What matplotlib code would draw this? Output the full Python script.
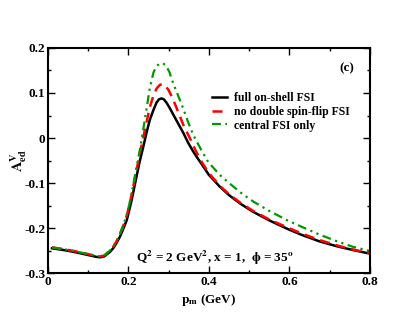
import matplotlib
matplotlib.use("Agg")
import matplotlib.pyplot as plt
from matplotlib.ticker import MultipleLocator

plt.rcParams['font.family'] = ['Liberation Serif', 'DejaVu Serif']
plt.rcParams['font.weight'] = 'bold'
plt.rcParams['mathtext.fontset'] = 'stix'
plt.rcParams['axes.unicode_minus'] = False

# full on-shell FSI
x_full = [0.01, 0.04, 0.07, 0.10, 0.12, 0.13, 0.14, 0.154, 0.162, 0.17, 0.179, 0.188,
          0.196, 0.202, 0.208, 0.214, 0.220, 0.228, 0.237, 0.245, 0.253, 0.262, 0.270,
          0.276, 0.282, 0.288, 0.295, 0.303, 0.320, 0.336, 0.348, 0.361, 0.372, 0.382,
          0.40, 0.427, 0.45, 0.48, 0.51, 0.55, 0.593, 0.63, 0.676, 0.72, 0.759, 0.80]
y_full = [-0.245, -0.249, -0.254, -0.260, -0.264, -0.265, -0.263, -0.253, -0.245, -0.234,
          -0.219, -0.200, -0.182, -0.160, -0.138, -0.112, -0.086, -0.052, -0.019, 0.012,
          0.040, 0.062, 0.079, 0.086, 0.088, 0.086, 0.078, 0.066, 0.038, 0.012, -0.010,
          -0.030, -0.045, -0.058, -0.082, -0.108, -0.127, -0.147, -0.164, -0.183, -0.201,
          -0.215, -0.230, -0.241, -0.249, -0.257]

# no double spin-flip FSI
x_nodsf = [0.01, 0.04, 0.07, 0.10, 0.12, 0.13, 0.14, 0.154, 0.162, 0.17, 0.179, 0.188,
           0.196, 0.202, 0.208, 0.214, 0.220, 0.228, 0.237, 0.245, 0.253, 0.262, 0.270,
           0.278, 0.285, 0.292, 0.30, 0.31, 0.320, 0.336, 0.353, 0.367, 0.382,
           0.40, 0.427, 0.45, 0.48, 0.51, 0.55, 0.593, 0.63, 0.676, 0.72, 0.759, 0.80]
y_nodsf = [-0.243, -0.247, -0.252, -0.258, -0.262, -0.263, -0.261, -0.250, -0.242, -0.230,
           -0.213, -0.193, -0.172, -0.150, -0.126, -0.099, -0.072, -0.036, 0.002, 0.035,
           0.068, 0.094, 0.110, 0.118, 0.120, 0.116, 0.106, 0.088, 0.066, 0.030, -0.001,
           -0.028, -0.053, -0.078, -0.106, -0.125, -0.145, -0.162, -0.181, -0.198,
           -0.212, -0.227, -0.239, -0.248, -0.256]

# central FSI only
x_central = [0.01, 0.04, 0.07, 0.10, 0.12, 0.13, 0.14, 0.154, 0.162, 0.17, 0.179, 0.188,
             0.196, 0.202, 0.208, 0.214, 0.220, 0.228, 0.237, 0.245, 0.253, 0.262, 0.270,
             0.278, 0.286, 0.294, 0.302, 0.311, 0.320, 0.336, 0.348, 0.361, 0.38, 0.398,
             0.427, 0.45, 0.48, 0.51, 0.55, 0.593, 0.63, 0.676, 0.72, 0.759, 0.80]
y_central = [-0.243, -0.247, -0.252, -0.258, -0.262, -0.263, -0.261, -0.250, -0.242, -0.230,
             -0.213, -0.192, -0.170, -0.148, -0.122, -0.094, -0.066, -0.028, 0.020, 0.065,
             0.110, 0.145, 0.160, 0.165, 0.166, 0.160, 0.146, 0.122, 0.102, 0.066, 0.036,
             0.007, -0.025, -0.053, -0.082, -0.100, -0.122, -0.141, -0.162, -0.182,
             -0.197, -0.215, -0.230, -0.242, -0.251]

fig = plt.figure(figsize=(4.17, 3.22), dpi=100)
ax = fig.add_axes([0.115, 0.152, 0.772, 0.699])

ax.plot(x_full, y_full, '-', color='black', lw=1.8, label='full on-shell FSI')
ax.plot(x_nodsf, y_nodsf, color='red', lw=1.8, dashes=(4, 2.5),
        label='no double spin-flip FSI')
ax.plot(x_central, y_central, color='#009900', lw=1.6, dashes=(4, 2, 1, 2, 1, 2),
        label='central FSI only')

ax.set_xlim(0, 0.8)
ax.set_ylim(-0.3, 0.2)
ax.xaxis.set_minor_locator(MultipleLocator(0.1))
ax.yaxis.set_minor_locator(MultipleLocator(0.05))
ax.set_xticks([0, 0.2, 0.4, 0.6, 0.8])
ax.set_xticklabels(['0', '0.2', '0.4', '0.6', '0.8'])
ax.set_yticks([-0.3, -0.2, -0.1, 0, 0.1, 0.2])
ax.set_yticklabels(['-0.3', '-0.2', '-0.1', '0', '0.1', '0.2'])
ax.tick_params(which='both', direction='in', top=True, right=True, labelsize=9.5, width=1)
ax.tick_params(which='major', length=5, pad=2)
ax.tick_params(which='minor', length=2.5)
for s in ax.spines.values():
    s.set_linewidth(1.5)

ax.set_xlabel(r'$\mathbf{p_m}$ (GeV)', fontsize=9.5, fontweight='bold', labelpad=3)

# y label placed as figure text so it stays inside the canvas
fig.text(0.045, 0.50, r'$\mathbf{A^{V}_{ed}}$', fontsize=10.5, rotation=90,
         ha='center', va='center')

ax.text(0.95, 0.91, '(c)', transform=ax.transAxes, fontsize=9.5, fontweight='bold',
        ha='right', va='center')
ax.text(0.275, 0.065, r'Q$^2$ = 2 GeV$^2$, x = 1,  $\mathbf{\phi}$ = 35$^{\mathrm{o}}$',
        transform=ax.transAxes, fontsize=9.5, fontweight='bold', va='center')

leg = ax.legend(loc='upper left', bbox_to_anchor=(0.495, 0.825), frameon=False,
                handlelength=1.3, handletextpad=0.6, labelspacing=0.15, borderaxespad=0,
                prop={'size': 8.5, 'weight': 'bold'})

fig.savefig('out.png', dpi=100)
